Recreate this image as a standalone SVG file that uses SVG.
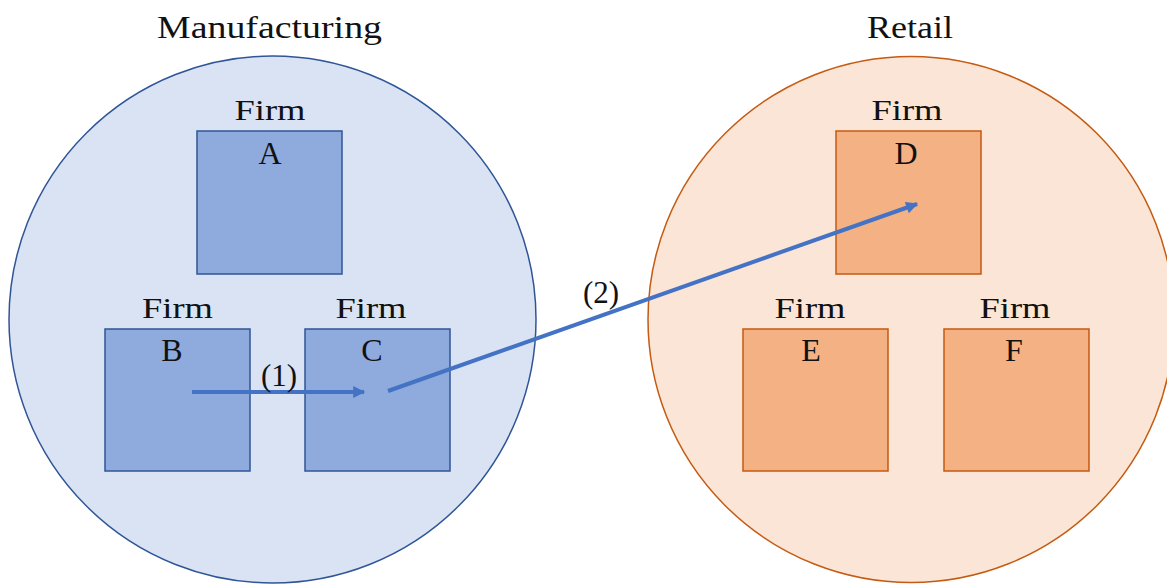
<svg xmlns="http://www.w3.org/2000/svg" width="1167" height="586" viewBox="0 0 1167 586">
  <defs>
    <marker id="head" viewBox="0 0 10 10" refX="9" refY="5" markerWidth="3.6" markerHeight="3" markerUnits="strokeWidth" orient="auto">
      <path d="M0,0 L10,5 L0,10 z" fill="#4472c4"/>
    </marker>
  </defs>
  <style>
    text { font-family: "Liberation Serif", "Times New Roman", serif; fill: #111; text-anchor: middle; }
    .title { font-size: 31px; }
    .firm { font-size: 30px; }
    .letter { font-size: 32px; }
    .num { font-size: 31px; }
    .sector-m { fill: #dae3f3; stroke: #2f5597; stroke-width: 1.5; }
    .sector-r { fill: #fbe5d6; stroke: #c55a11; stroke-width: 1.5; }
    .box-m { fill: #8faadc; stroke: #2f5597; stroke-width: 1.5; }
    .box-r { fill: #f4b183; stroke: #c55a11; stroke-width: 1.5; }
    .flow { fill: none; stroke: #4472c4; stroke-width: 4; marker-end: url(#head); }
  </style>
  <rect width="1167" height="586" fill="#ffffff"/>

  <!-- sectors -->
  <g id="manufacturing">
    <circle class="sector-m" cx="272.5" cy="319.5" r="263.5"/>
    <text class="title" x="269.5" y="38" textLength="225" lengthAdjust="spacingAndGlyphs">Manufacturing</text>
  </g>
  <g id="retail">
    <circle class="sector-r" cx="911" cy="319.5" r="263"/>
    <text class="title" x="910" y="38" textLength="86" lengthAdjust="spacingAndGlyphs">Retail</text>
  </g>

  <!-- firms in manufacturing -->
  <g id="firm-a">
    <rect class="box-m" x="197" y="131" width="145" height="143"/>
    <text class="firm" x="270" y="120" textLength="71" lengthAdjust="spacingAndGlyphs">Firm</text>
    <text class="letter" x="270" y="164">A</text>
  </g>
  <g id="firm-b">
    <rect class="box-m" x="105" y="329" width="145" height="142"/>
    <text class="firm" x="177.5" y="318" textLength="71" lengthAdjust="spacingAndGlyphs">Firm</text>
    <text class="letter" x="172" y="361">B</text>
  </g>
  <g id="firm-c">
    <rect class="box-m" x="305" y="329" width="145" height="142"/>
    <text class="firm" x="371" y="318" textLength="71" lengthAdjust="spacingAndGlyphs">Firm</text>
    <text class="letter" x="372" y="361">C</text>
  </g>

  <!-- firms in retail -->
  <g id="firm-d">
    <rect class="box-r" x="836" y="131" width="145" height="143"/>
    <text class="firm" x="907" y="120" textLength="71" lengthAdjust="spacingAndGlyphs">Firm</text>
    <text class="letter" x="906" y="164">D</text>
  </g>
  <g id="firm-e">
    <rect class="box-r" x="743" y="329" width="145" height="142"/>
    <text class="firm" x="810" y="318" textLength="71" lengthAdjust="spacingAndGlyphs">Firm</text>
    <text class="letter" x="811" y="361">E</text>
  </g>
  <g id="firm-f">
    <rect class="box-r" x="944" y="329" width="145" height="142"/>
    <text class="firm" x="1015" y="318" textLength="71" lengthAdjust="spacingAndGlyphs">Firm</text>
    <text class="letter" x="1014" y="361">F</text>
  </g>

  <!-- flows between firms -->
  <g id="connectors">
    <line class="flow" x1="192" y1="392" x2="364" y2="392"/>
    <text class="num" x="279" y="386">(1)</text>
    <line class="flow" x1="388" y1="391" x2="917" y2="204"/>
    <text class="num" x="601" y="303">(2)</text>
  </g>
</svg>
